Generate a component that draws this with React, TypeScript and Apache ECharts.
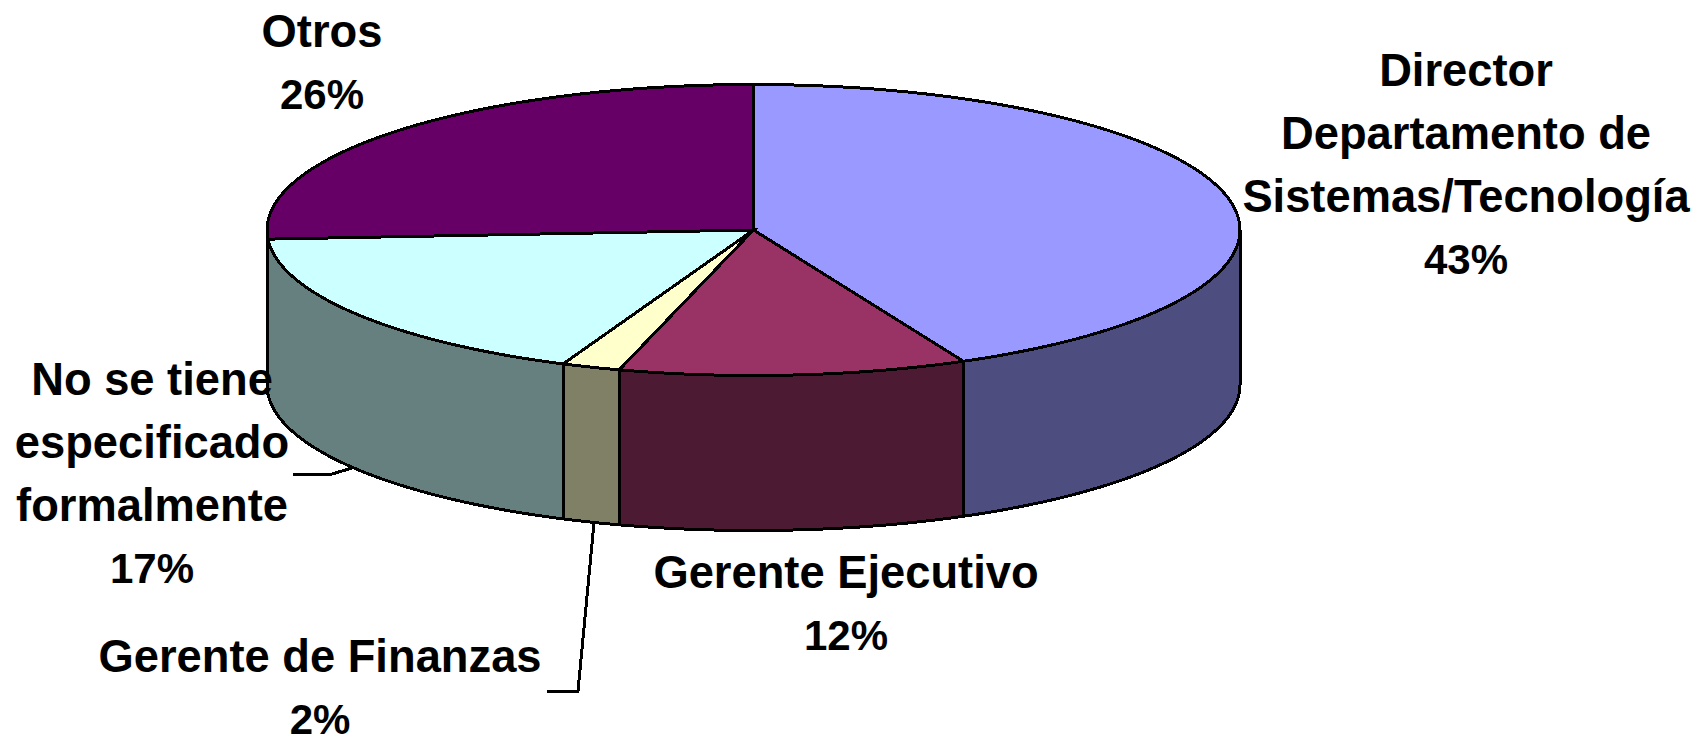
import React, { useEffect, useRef } from "react";
import * as echarts from "echarts";

const categories = [
  "Director\nDepartamento de\nSistemas/Tecnología",
  "Gerente Ejecutivo",
  "Gerente de Finanzas",
  "No se tiene\nespecificado\nformalmente",
  "Otros",
];
const shares = [42.9, 11.55, 1.95, 17.6, 26.0];
const percentLabels = ["43%", "12%", "2%", "17%", "26%"];
const topColors = ["#9999FF", "#993366", "#FFFFCC", "#CCFFFF", "#660066"];
const sideColors = ["#4D4D80", "#4D1A33", "#808066", "#668080", "#330033"];

const W = 1700;
const H = 741;
const CX = 753.5;
const CY = 230;
const RX = 486.5;
const RY = 145.5;
const DEPTH = 155;
const EDGE = 3;
const FONT = 45.3;
const PERCENT_FONT = 42;
const LINE = 63;

const labelAnchors = [
  { x: 1466, y: 70 },
  { x: 846, y: 572 },
  { x: 320, y: 656 },
  { x: 152, y: 379 },
  { x: 322, y: 31 },
];

const total = shares.reduce((a, b) => a + b, 0);
const startAngles = shares.map((_, i) => (shares.slice(0, i).reduce((a, b) => a + b, 0) / total) * 360);

function rim(deg: number, dy = 0): number[] {
  const t = (deg * Math.PI) / 180;
  return [CX + RX * Math.sin(t), CY - RY * Math.cos(t) + dy];
}

function arc(a: number, b: number, dy = 0): number[][] {
  const pts: number[][] = [];
  const n = Math.max(2, Math.ceil(Math.abs(b - a)));
  for (let i = 0; i <= n; i++) pts.push(rim(a + ((b - a) * i) / n, dy));
  return pts;
}

const renderSlice = (params: any, api: any) => {
  const i = params.dataIndex;
  const a = startAngles[i];
  const b = a + (api.value(0) / total) * 360;
  const children: any[] = [];
  const sa = Math.max(a, 90);
  const sb = Math.min(b, 270);
  if (sa < sb) {
    children.push({
      type: "polygon",
      shape: { points: [...arc(sa, sb), ...arc(sb, sa, DEPTH)] },
      style: { fill: sideColors[i], stroke: "#000", lineWidth: EDGE, lineJoin: "miter" },
    });
  }
  children.push({
    type: "polygon",
    shape: { points: [[CX, CY], ...arc(a, b)] },
    style: { fill: topColors[i], stroke: "#000", lineWidth: EDGE, lineJoin: "miter" },
  });
  return { type: "group", children };
};

const labelGraphics = categories.flatMap((name, i) => {
  const names = name.split("\n");
  const lines = [...names, percentLabels[i]];
  return lines.map((line, k) => ({
    type: "text",
    z: 50,
    x: labelAnchors[i].x,
    y: labelAnchors[i].y + k * LINE,
    style: {
      text: line,
      fill: "#000",
      font: `bold ${k < names.length ? FONT : PERCENT_FONT}px "Liberation Sans", Arial, sans-serif`,
      textAlign: "center",
      textVerticalAlign: "middle",
    },
  }));
});

const leaderLines = [
  [[293, 474], [332, 474], [352, 468]],
  [[547, 691], [578, 691], [594, 523]],
];

export default function App() {
  const ref = useRef<HTMLDivElement>(null);
  useEffect(() => {
    const chart = echarts.init(ref.current!, undefined, { renderer: "svg" });
    chart.setOption({
      animation: false,
      backgroundColor: "#fff",
      series: [
        {
          type: "custom",
          coordinateSystem: "none",
          renderItem: renderSlice,
          data: shares.map((v, i) => ({ name: categories[i], value: [v] })),
          silent: true,
        },
      ],
      graphic: [
        ...leaderLines.map((points) => ({
          type: "polyline",
          z: 40,
          shape: { points },
          style: { stroke: "#000", lineWidth: 3, fill: "none" },
        })),
        ...labelGraphics,
      ],
    });
    return () => chart.dispose();
  }, []);
  return (
    <>
      <style>{`body{margin:0;background:#fff} svg path{shape-rendering:crispEdges}`}</style>
      <div ref={ref} style={{ position: "absolute", left: 0, top: 0, width: W, height: H }} />
    </>
  );
}
